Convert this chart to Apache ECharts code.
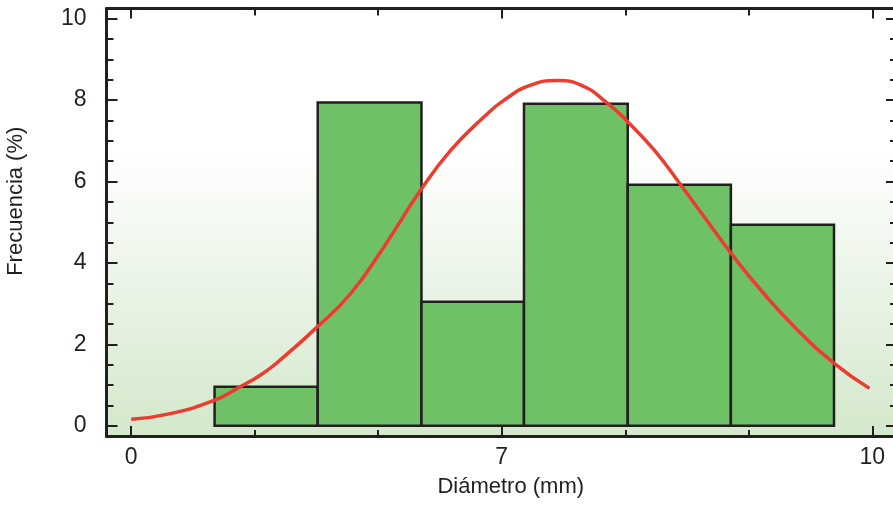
<!DOCTYPE html>
<html>
<head>
<meta charset="utf-8">
<script src="https://cdn.jsdelivr.net/npm/echarts@6/dist/echarts.min.js"></script>
<style>html,body{margin:0;padding:0;background:#fff}#c{width:893px;height:507px}</style>
</head>
<body>
<div id="c"></div>
<script>
// Histogram bins (x in axis units; the axis shows labels 0, 7, 10 at positions 0, 3, 6)
var binEdges = [0.675, 1.51, 2.35, 3.18, 4.02, 4.855, 5.69];
var frequencies = [0.96, 7.94, 3.05, 7.91, 5.92, 4.94];

// Fitted curve points
var curveX = [0.0, 0.318, 0.677, 0.859, 1.048, 1.196, 1.507, 1.777, 2.047, 2.344, 2.588, 2.857, 3.019, 3.235, 3.452, 3.641, 3.857, 4.019, 4.235, 4.451, 4.640, 4.856, 5.099, 5.396, 5.694, 5.977];
var curveY = [0.16, 0.30, 0.63, 0.92, 1.25, 1.59, 2.43, 3.25, 4.40, 5.79, 6.77, 7.59, 8.00, 8.37, 8.48, 8.37, 7.92, 7.47, 6.77, 5.91, 5.13, 4.24, 3.33, 2.35, 1.53, 0.92];

// Axis ticks and labels
var xMajorTicks = [0, 3, 6];
var xTickLabels = ['0', '7', '10'];
var xMinorTicks = [1, 2, 4, 5];
var yMajorTicks = [0, 2, 4, 6, 8, 10];
var yTickLabels = ['0', '2', '4', '6', '8', '10'];
var yMinorTicks = [0.5, 1, 1.5, 2.5, 3, 3.5, 4.5, 5, 5.5, 6.5, 7, 7.5, 8.5, 9, 9.5];

var xName = 'Diámetro (mm)';
var yName = 'Frecuencia (%)';

var ink = '#231f20';
var font = 'Liberation Sans';
var xMin = -0.2, xMax = 6.2, yMin = -0.25, yMax = 10.25;

function xAx(pos, ticks, len, opts) {
  return Object.assign({
    type: 'value', position: pos, min: xMin, max: xMax,
    axisLine: {show: false, onZero: false},
    axisTick: {show: true, inside: true, length: len, customValues: ticks, lineStyle: {color: ink, width: 2}},
    axisLabel: {show: false},
    splitLine: {show: false}
  }, opts || {});
}
function yAx(pos, ticks, len, opts) {
  return Object.assign({
    type: 'value', position: pos, min: yMin, max: yMax,
    axisLine: {show: false, onZero: false},
    axisTick: {show: true, inside: true, length: len, customValues: ticks, lineStyle: {color: ink, width: 2}},
    axisLabel: {show: false},
    splitLine: {show: false}
  }, opts || {});
}
var borderLine = {show: true, onZero: false, lineStyle: {color: ink, width: 3}};

var barData = frequencies.map(function (f, i) { return [binEdges[i], binEdges[i + 1], f]; });
var curveData = curveX.map(function (x, i) { return [x, curveY[i]]; });

var chart = echarts.init(document.getElementById('c'), null, {renderer: 'canvas'});
chart.setOption({
  animation: false,
  textStyle: {fontFamily: font},
  grid: {
    left: 106.5, right: -4, top: 8.5, bottom: 71,
    containLabel: false, outerBoundsMode: 'none',
    show: true, borderWidth: 0,
    backgroundColor: new echarts.graphic.LinearGradient(0, 0, 0, 1, [
      {offset: 0, color: '#ffffff'},
      {offset: 0.33, color: '#ffffff'},
      {offset: 1, color: '#d3e8cb'}
    ])
  },
  xAxis: [
    xAx('bottom', xMajorTicks, 10, {
      axisLine: borderLine,
      axisLabel: {
        show: true, customValues: xMajorTicks, margin: 10,
        color: ink, fontSize: 23, fontFamily: font,
        formatter: function (v) { return xTickLabels[xMajorTicks.indexOf(v)]; }
      },
      name: xName, nameLocation: 'middle', nameGap: 40,
      nameTextStyle: {color: ink, fontSize: 22, fontFamily: font, padding: [0, 0, 0, 18]}
    }),
    xAx('bottom', xMinorTicks, 6),
    xAx('top', xMajorTicks, 10, {axisLine: borderLine}),
    xAx('top', xMinorTicks, 7)
  ],
  yAxis: [
    yAx('left', yMajorTicks, 11, {
      axisLine: borderLine,
      axisLabel: {
        show: true, customValues: yMajorTicks, margin: 20,
        color: ink, fontSize: 23, fontFamily: font,
        formatter: function (v) { return yTickLabels[yMajorTicks.indexOf(v)]; }
      },
      name: yName, nameLocation: 'middle', nameGap: 80,
      nameTextStyle: {color: ink, fontSize: 22, fontFamily: font, padding: [0, 0, 0, 42]}
    }),
    yAx('left', yMinorTicks, 7),
    yAx('right', yMajorTicks, 11, {axisLine: borderLine}),
    yAx('right', yMinorTicks, 7)
  ],
  series: [
    {
      type: 'custom', xAxisIndex: 0, yAxisIndex: 0, z: 2,
      encode: {x: [0, 1], y: 2},
      data: barData,
      renderItem: function (params, api) {
        var p0 = api.coord([api.value(0), api.value(2)]);
        var p1 = api.coord([api.value(1), 0]);
        return {
          type: 'rect',
          shape: {x: p0[0], y: p0[1], width: p1[0] - p0[0], height: p1[1] - p0[1]},
          style: {fill: '#6fc167', stroke: ink, lineWidth: 2.5}
        };
      }
    },
    {
      type: 'line', xAxisIndex: 0, yAxisIndex: 0, z: 3,
      data: curveData, smooth: 0.5, symbol: 'none',
      lineStyle: {color: '#ee3b2f', width: 3.5}
    }
  ]
});
</script>
</body>
</html>
